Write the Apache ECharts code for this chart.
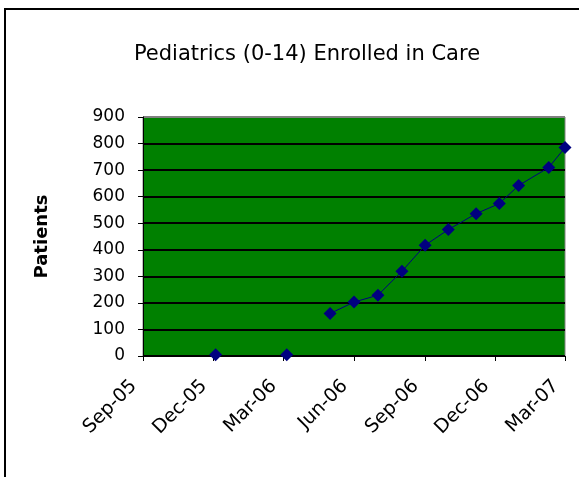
<!DOCTYPE html>
<html>
<head>
<meta charset="utf-8">
<script src="https://cdn.jsdelivr.net/npm/echarts@6/dist/echarts.min.js"></script>
<style>
  html, body { margin: 0; padding: 0; background: #fff; }
  #chart { width: 579px; height: 477px; }
</style>
</head>
<body>
<div id="chart"></div>
<script>
// dates of each reading (null value = blank cell, breaks the line)
const pointDates = [
  "2005-12-04", "2006-01-20", "2006-03-06", "2006-04-05",
  "2006-05-01", "2006-06-01", "2006-07-02", "2006-08-02",
  "2006-09-01", "2006-10-01", "2006-11-06", "2006-12-06",
  "2006-12-31", "2007-02-08", "2007-03-01",
];
const patients = [
  5, null, 5, null,
  160, 203, 229, 319,
  417, 476, 536, 574,
  642, 710, 785,
];

const tickDates = [
  "2005-09-01", "2005-12-01", "2006-03-01", "2006-06-01",
  "2006-09-01", "2006-12-01", "2007-03-01",
];
const tickLabels = ["Sep-05", "Dec-05", "Mar-06", "Jun-06", "Sep-06", "Dec-06", "Mar-07"];

const yTicks = [0, 100, 200, 300, 400, 500, 600, 700, 800, 900];

const FONT = "DejaVu Sans";

const ts = (s) => Date.UTC(+s.slice(0, 4), +s.slice(5, 7) - 1, +s.slice(8, 10));
const tickValues = tickDates.map(ts);
const labelFor = (v) => {
  let best = 0;
  tickValues.forEach((t, i) => {
    if (Math.abs(t - v) < Math.abs(tickValues[best] - v)) best = i;
  });
  return tickLabels[best];
};

// top gridline is the grey plot border
const gridColors = yTicks.map((v, i) => (i === yTicks.length - 1 ? "#808080" : "#000"));

const chart = echarts.init(document.getElementById("chart"), null, { renderer: "canvas" });

chart.setOption({
  backgroundColor: "#fff",
  animation: false,
  graphic: [
    {
      type: "rect",
      shape: { x: 5, y: 9, width: 620, height: 520 },
      style: { fill: "none", stroke: "#000", lineWidth: 2 },
      silent: true,
    },
  ],
  title: {
    text: "Pediatrics (0-14) Enrolled in Care",
    left: 302,
    textAlign: "center",
    top: 39,
    textStyle: { fontFamily: FONT, fontSize: 21, fontWeight: "normal", color: "#000" },
  },
  grid: { left: 143, right: 14, top: 117, bottom: 121, containLabel: false,
          show: true, backgroundColor: "#008000", borderColor: "#808080", borderWidth: 1 },
  xAxis: {
    type: "value",
    min: tickValues[0],
    max: tickValues[tickValues.length - 1],
    axisLine: { lineStyle: { color: "#000", width: 1 } },
    axisTick: { show: true, length: 5, customValues: tickValues, lineStyle: { color: "#000" } },
    axisLabel: {
      customValues: tickValues,
      rotate: 45,
      margin: 18,
      padding: [0, 13, 0, 0],
      formatter: (v) => labelFor(v),
      fontFamily: FONT,
      fontSize: 19,
      color: "#000",
      hideOverlap: false,
    },
    splitLine: { show: false },
  },
  yAxis: {
    type: "value",
    min: yTicks[0],
    max: yTicks[yTicks.length - 1],
    interval: 100,
    name: "Patients",
    nameLocation: "middle",
    nameRotate: 90,
    nameGap: 92,
    nameTextStyle: { fontFamily: FONT, fontSize: 18, fontWeight: "bold", color: "#000" },
    axisLine: { show: true, lineStyle: { color: "#000", width: 1 } },
    axisTick: { show: true, length: 5, inside: false, lineStyle: { color: "#000" } },
    axisLabel: { fontFamily: FONT, fontSize: 17, color: "#000", margin: 18 },
    splitLine: { show: true, lineStyle: { color: gridColors, width: 2 } },
  },
  series: [
    {
      type: "line",
      data: pointDates.map((d, i) => [ts(d), patients[i]]),
      connectNulls: false,
      symbol: "diamond",
      symbolSize: 13,
      showAllSymbol: true,
      lineStyle: { color: "#000080", width: 1 },
      itemStyle: { color: "#000080" },
    },
  ],
});
</script>
</body>
</html>
